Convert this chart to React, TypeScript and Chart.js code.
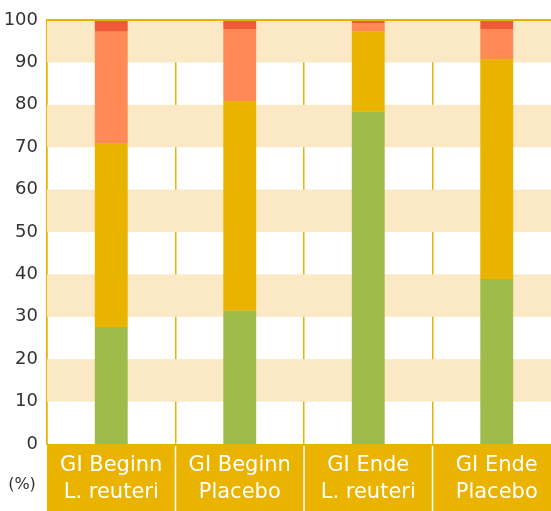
import React, { useEffect, useRef } from "react";
import { Chart, registerables } from "chart.js";

Chart.register(...registerables);

const categories: string[][] = [
  ["GI Beginn", "L. reuteri"],
  ["GI Beginn", "Placebo"],
  ["GI Ende", "L. reuteri"],
  ["GI Ende", "Placebo"],
];
const greenValues = [27.6, 31.4, 78.5, 38.9];
const yellowValues = [43.4, 49.5, 18.7, 51.9];
const orangeValues = [26.2, 17.0, 2.1, 7.1];
const redValues = [2.8, 2.1, 0.7, 2.1];
const bandRanges = [
  [90, 100],
  [70, 80],
  [50, 60],
  [30, 40],
  [10, 20],
];
const unitLabel = "(%)";

const YELLOW = "#E9B300";
const FONT = "'DejaVu Sans', sans-serif";

const decorPlugin = {
  id: "decor",
  beforeDatasetsDraw(chart: any) {
    const { ctx, chartArea, scales } = chart;
    const y = scales.y;
    ctx.save();
    ctx.fillStyle = "#FBE9C6";
    for (const [a, b] of bandRanges) {
      const y1 = y.getPixelForValue(b);
      const y2 = y.getPixelForValue(a);
      ctx.fillRect(chartArea.left, y1, chartArea.right - chartArea.left, y2 - y1);
    }
    ctx.restore();
  },
  beforeDraw(chart: any) {
    const { ctx, chartArea, scales } = chart;
    ctx.save();
    ctx.fillStyle = YELLOW;
    ctx.fillRect(chartArea.left, chartArea.bottom, chartArea.right - chartArea.left, chart.height - chartArea.bottom);
    ctx.strokeStyle = "#ffffff";
    ctx.lineWidth = 1.5;
    const x = scales.x;
    for (let i = 1; i < categories.length; i++) {
      const px = (x.getPixelForValue(i - 1) + x.getPixelForValue(i)) / 2;
      ctx.beginPath();
      ctx.moveTo(px, chartArea.bottom + 2);
      ctx.lineTo(px, chart.height);
      ctx.stroke();
    }
    ctx.restore();
  },
  afterDraw(chart: any) {
    const { ctx, chartArea } = chart;
    ctx.save();
    ctx.strokeStyle = YELLOW;
    ctx.lineWidth = 2;
    ctx.beginPath();
    ctx.moveTo(chartArea.left, chartArea.top);
    ctx.lineTo(chartArea.right, chartArea.top);
    ctx.stroke();
    ctx.fillStyle = "#333333";
    ctx.font = `16px ${FONT}`;
    ctx.textAlign = "center";
    ctx.textBaseline = "middle";
    ctx.fillText(unitLabel, 22, 485);
    ctx.restore();
  },
};

export default function App() {
  const ref = useRef<HTMLCanvasElement>(null);
  useEffect(() => {
    document.body.style.margin = "0";
    const chart = new Chart(ref.current!, {
      type: "bar",
      data: {
        labels: categories,
        datasets: [
          { label: "green", data: greenValues, backgroundColor: "#9FBC4A" },
          { label: "yellow", data: yellowValues, backgroundColor: YELLOW },
          { label: "orange", data: orangeValues, backgroundColor: "#FF8A55" },
          { label: "red", data: redValues, backgroundColor: "#F15A37" },
        ].map((d) => ({ ...d, barPercentage: 0.256, categoryPercentage: 1, borderWidth: 0 })),
      },
      options: {
        animation: false,
        responsive: false,
        layout: { padding: { top: 20, right: 0, left: 0, bottom: 0 } },
        plugins: { legend: { display: false }, tooltip: { enabled: false } },
        scales: {
          x: {
            stacked: true,
            grid: { color: YELLOW, lineWidth: 1.5, drawTicks: false, offset: true },
            border: { display: false },
            ticks: {
              color: "#ffffff",
              font: { family: FONT, size: 21, lineHeight: 1.24 },
              padding: 9,
              maxRotation: 0,
              autoSkip: false,
            },
            afterFit(scale: any) {
              scale.height = 67;
            },
          },
          y: {
            stacked: true,
            min: 0,
            max: 100,
            grid: { display: false, drawTicks: false },
            border: { display: true, color: YELLOW, width: 1.5 },
            ticks: {
              stepSize: 10,
              color: "#333333",
              font: { family: FONT, size: 18 },
              padding: 9,
            },
            afterFit(scale: any) {
              scale.width = 47;
            },
          },
        },
      },
      plugins: [decorPlugin],
    });
    return () => chart.destroy();
  }, []);
  return (
    <div style={{ width: 551, height: 511, overflow: "hidden" }}>
      <canvas ref={ref} width={561} height={511} style={{ display: "block" }} />
    </div>
  );
}
